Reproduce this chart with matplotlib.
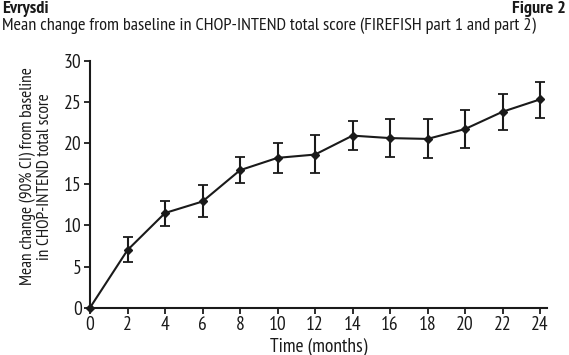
import matplotlib
matplotlib.use("Agg")
import matplotlib.pyplot as plt
from matplotlib import font_manager

months = [0, 2, 4, 6, 8, 10, 12, 14, 16, 18, 20, 22, 24]
mean_change = [0, 7.0, 11.5, 12.9, 16.7, 18.2, 18.6, 20.9, 20.6, 20.5, 21.7, 23.8, 25.3]
ci_upper = [0, 8.6, 12.9, 14.9, 18.35, 20.05, 21.0, 22.65, 22.9, 22.9, 24.0, 25.9, 27.4]
ci_lower = [0, 5.6, 9.9, 11.0, 15.2, 16.4, 16.3, 19.2, 18.35, 18.2, 19.45, 21.6, 23.1]
x_ticks = list(range(0, 25, 2))
y_ticks = [0, 5, 10, 15, 20, 25, 30]

fonts = font_manager.fontManager.ttflist
names = {f.name for f in fonts}
bold_names = {f.name for f in fonts if (f.weight if isinstance(f.weight, int) else 400) >= 700}
candidates = ["Arial Narrow", "Liberation Sans Narrow", "Archivo Narrow", "PT Sans Narrow",
              "Roboto Condensed", "Fira Sans Condensed", "IBM Plex Sans Condensed",
              "Encode Sans Condensed", "Open Sans Condensed", "Pragati Narrow"]
fam = next((c for c in candidates if c in bold_names), None)
if fam is None:
    fam = next((c for c in candidates if c in names), "DejaVu Sans")
plt.rcParams["font.family"] = [fam, "DejaVu Sans"]

col = "#1a1a1a"
fig = plt.figure(figsize=(5.69, 3.55), dpi=100)
ax = fig.add_axes([90/569, 1-307.7/355, (547-90)/569, (307.7-60.7)/355])

err_lo = [m - l for m, l in zip(mean_change, ci_lower)]
err_hi = [u - m for m, u in zip(mean_change, ci_upper)]
ax.errorbar(months[1:], mean_change[1:], yerr=[err_lo[1:], err_hi[1:]], fmt="none",
            ecolor=col, elinewidth=1.5, capsize=3.5, capthick=1.3, zorder=2)
ax.plot(months, mean_change, color=col, lw=1.5, marker="D", markersize=4,
        markerfacecolor=col, markeredgecolor=col, zorder=3, clip_on=False)

ax.set_xlim(0, 24.37)
ax.set_ylim(0, 30)
ax.set_xticks(x_ticks)
ax.set_yticks(y_ticks)
for s in ["top", "right"]:
    ax.spines[s].set_visible(False)
for s in ["left", "bottom"]:
    ax.spines[s].set_linewidth(1.5)
    ax.spines[s].set_color(col)
ax.spines["bottom"].set_bounds(-0.15, 24.37)

fs = 12
ax.tick_params(axis="both", direction="out", length=4, width=1.3, color=col,
               labelsize=fs, labelcolor=col, pad=2)
xl = ax.set_xlabel("Time (months)", fontsize=fs, color=col, labelpad=3)
yl = ax.set_ylabel("Mean change (90% CI) from baseline\nin CHOP-INTEND total score",
                   fontsize=fs, color=col, labelpad=10, linespacing=1.15)
ax.yaxis.set_label_coords(-0.08, 0.531)

t1 = fig.text(2/569, 1-9/355, "Evrysdi", fontsize=fs, fontweight="bold", color=col, va="center", ha="left")
t2 = fig.text(566/569, 1-9/355, "Figure 2", fontsize=fs, fontweight="bold", color=col, va="center", ha="right")
sub = fig.text(2/569, 1-26/355, "Mean change from baseline in CHOP-INTEND total score (FIREFISH part 1 and part 2)",
               fontsize=fs, color=col, va="center", ha="left")
fig.canvas.draw()
r = fig.canvas.get_renderer()
w = sub.get_window_extent(r).width
if w > 0:
    scale = 534 / w
    sub.set_fontsize(fs * scale)
    t1.set_fontsize(fs * scale)
    t2.set_fontsize(fs * scale)
    wx = xl.get_window_extent(r).width
    hy = yl.get_window_extent(r).height
    if wx > 0:
        xs = fs * 97 / wx
        xl.set_fontsize(xs)
        ax.tick_params(labelsize=xs)
    if hy > 0:
        yl.set_fontsize(fs * 217 / hy)

fig.savefig("out.png", dpi=100)
